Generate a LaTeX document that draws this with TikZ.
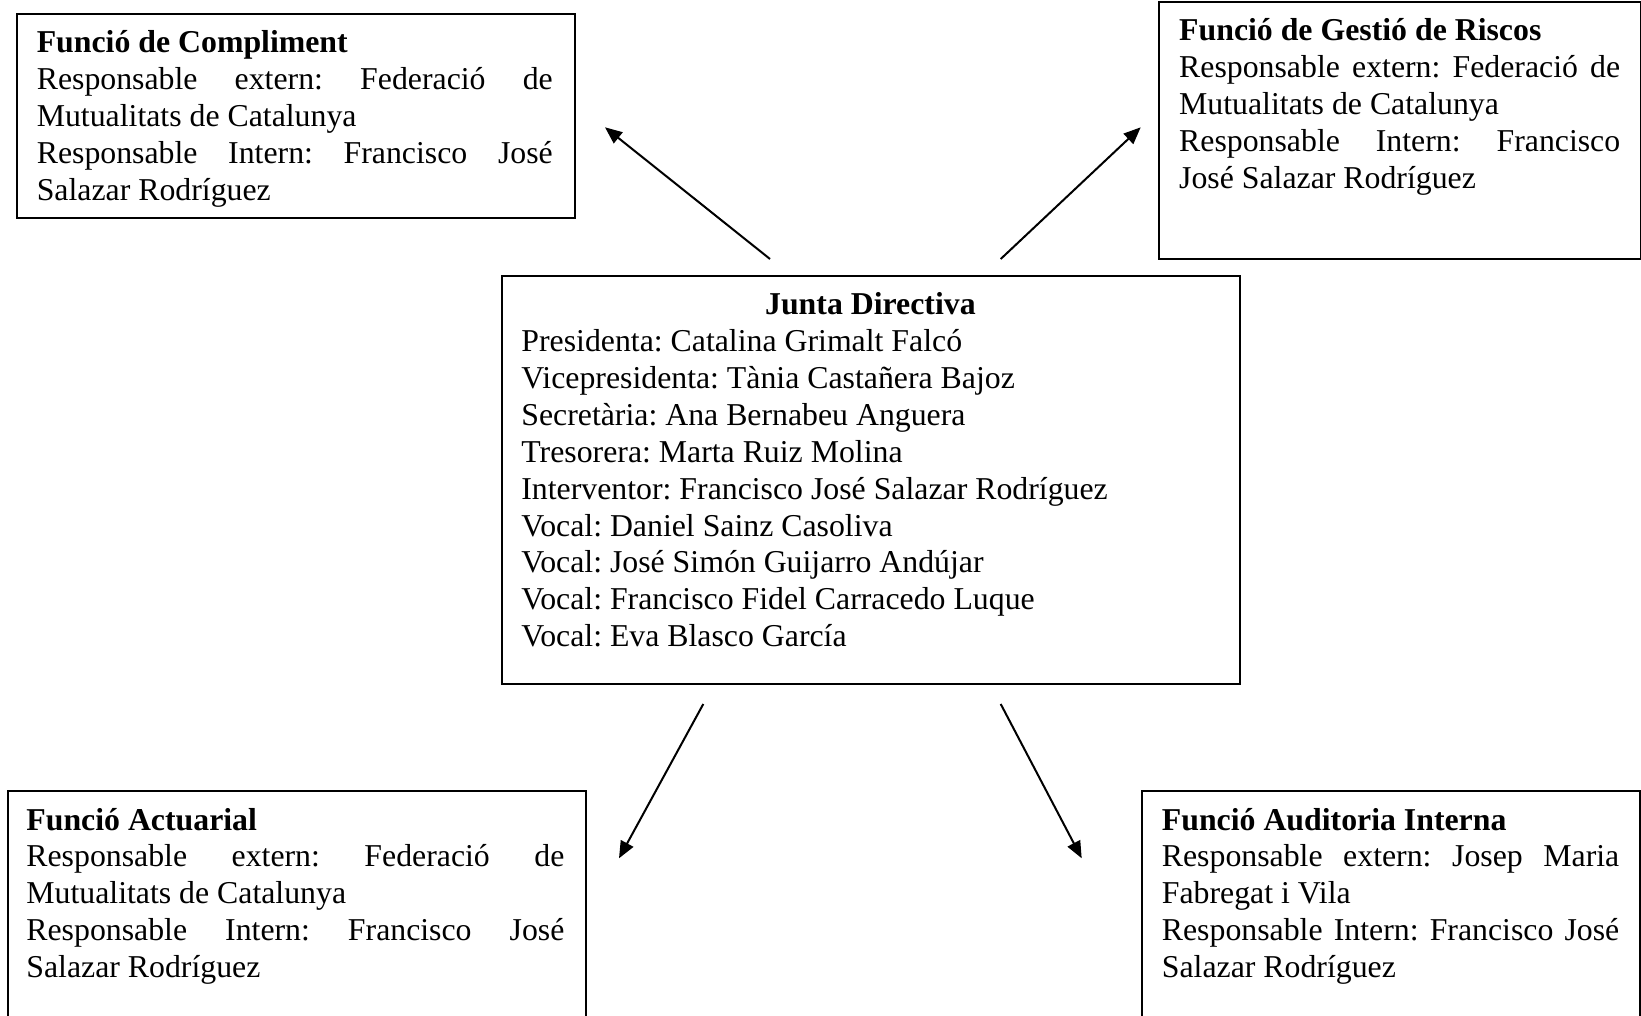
\documentclass[tikz,border=0pt]{standalone}
\usepackage{fontspec}
\setmainfont{Liberation Serif}
\usetikzlibrary{arrows.meta}
\frenchspacing
\newcommand{\boxfont}{\fontsize{31.8}{36.85}\selectfont\frenchspacing\hyphenpenalty=10000\exhyphenpenalty=10000}
\tikzset{
  frame/.style={draw, line width=2pt, inner sep=0pt, anchor=north west},
  txt/.style={inner sep=0pt, anchor=base west, font=\boxfont, align=justify},
  arr/.style={line width=2pt, -{Triangle[length=17pt,width=14pt]}},
}
\begin{document}
\begin{tikzpicture}[x=1pt,y=-1pt]
\useasboundingbox (0,0) rectangle (1641,1016);
\clip (0,0) rectangle (1641,1016);
% frames
\node[frame, minimum width=557.8pt, minimum height=204.1pt] (comp) at (15.7,12.6) {};
\node[frame, minimum width=482pt, minimum height=257pt] (risc) at (1158,1) {};
\node[frame, minimum width=737.9pt, minimum height=408.1pt] (junta) at (501.3,275.3) {};
\node[frame, minimum width=577.7pt, minimum height=260pt] (act) at (7.3,790.2) {};
\node[frame, minimum width=498.2pt, minimum height=260pt] (aud) at (1140.8,790.2) {};
% texts
\node[txt, text width=516pt] (compt) at (36.6,53) {%
\textbf{Funció de Compliment}\par
Responsable extern: Federació de\linebreak Mutualitats de Catalunya\par
Responsable Intern: Francisco José\linebreak Salazar Rodríguez\par};
\node[txt, text width=441pt] (risct) at (1179,41) {%
\textbf{Funció de Gestió de Riscos}\par
Responsable extern: Federació de\linebreak Mutualitats de Catalunya\par
Responsable Intern: Francisco\linebreak José Salazar Rodríguez\par};
\node[txt, text width=698pt] (juntat) at (521.2,315) {%
{\centering\bfseries Junta Directiva\par}
Presidenta: Catalina Grimalt Falcó\par
Vicepresidenta: Tània Castañera Bajoz\par
Secretària: Ana Bernabeu Anguera\par
Tresorera: Marta Ruiz Molina\par
Interventor: Francisco José Salazar Rodríguez\par
Vocal: Daniel Sainz Casoliva\par
Vocal: José Simón Guijarro Andújar\par
Vocal: Francisco Fidel Carracedo Luque\par
Vocal: Eva Blasco García\par};
\node[txt, text width=538pt] (actt) at (26.2,830) {%
\textbf{Funció Actuarial}\par
Responsable extern: Federació de\linebreak Mutualitats de Catalunya\par
Responsable Intern: Francisco José\linebreak Salazar Rodríguez\par};
\node[txt, text width=457.4pt] (audt) at (1161.7,830) {%
\textbf{Funció Auditoria Interna}\par
Responsable extern: Josep Maria\linebreak Fabregat i Vila\par
Responsable Intern: Francisco José\linebreak Salazar Rodríguez\par};
% arrow ends
\coordinate (a1s) at (770,259);
\coordinate (a1e) at (605,127.3);
\coordinate (a2s) at (1000.7,259);
\coordinate (a2e) at (1140.7,127.3);
\coordinate (a3s) at (703.3,704);
\coordinate (a3e) at (619,858.3);
\coordinate (a4s) at (1000.7,704);
\coordinate (a4e) at (1081.7,858.3);
\draw[arr] (a1s) -- (a1e);
\draw[arr] (a2s) -- (a2e);
\draw[arr] (a3s) -- (a3e);
\draw[arr] (a4s) -- (a4e);
\end{tikzpicture}
\end{document}
